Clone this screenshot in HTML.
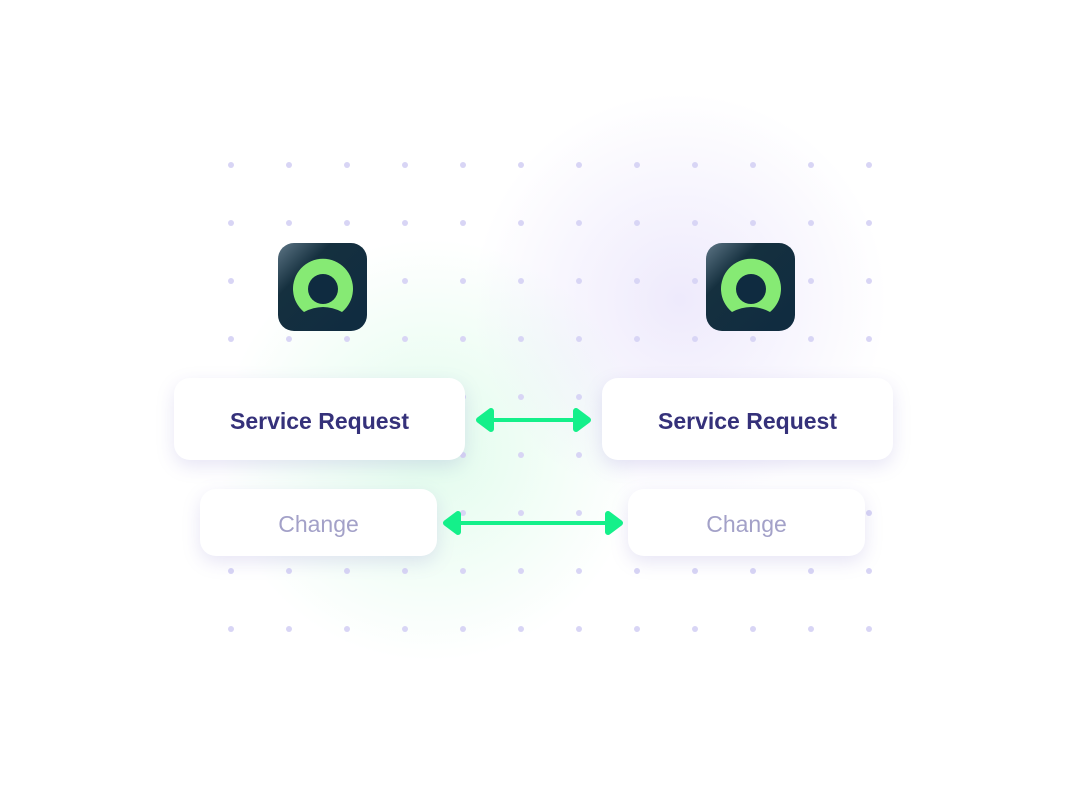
<!DOCTYPE html>
<html><head><style>
body{margin:0;width:1090px;height:800px;background:#fff;position:relative;overflow:hidden;font-family:"Liberation Sans",sans-serif}
.glow{position:absolute;border-radius:50%}
.box{position:absolute;background:#fff;border-radius:16px;box-shadow:0 6px 18px rgba(120,110,200,.18);display:flex;align-items:center;justify-content:center;padding-top:4px;box-sizing:border-box}
.sr{color:#35317a;font-weight:bold;font-size:23px}
.ch{color:#a3a1c8;font-size:23px}
.icon{position:absolute;width:89px;height:88px;border-radius:16px;background:linear-gradient(135deg,#5d7585 0%,#15303f 30%,#0f2b40 100%)}
</style></head><body>
<div class="glow" style="left:200px;top:220px;width:460px;height:460px;background:radial-gradient(circle,rgba(120,240,170,.22) 0%,rgba(120,240,170,0) 65%)"></div>
<div class="glow" style="left:440px;top:90px;width:480px;height:420px;background:radial-gradient(circle,rgba(170,150,240,.2) 0%,rgba(170,150,240,0) 65%)"></div>
<svg width="1090" height="800" style="position:absolute;left:0;top:0">
<g fill="#d8d5f5" id="dots"></g>
</svg>
<script>
var g=document.getElementById('dots'),s='';
for(var i=0;i<12;i++)for(var j=0;j<9;j++)s+='<circle cx="'+(231+i*58)+'" cy="'+(165+j*58)+'" r="3"/>';
g.innerHTML=s;
</script>
<div class="icon" style="left:278px;top:243px"></div>
<div class="icon" style="left:706px;top:243px"></div>
<svg width="1090" height="800" style="position:absolute;left:0;top:0">
<defs><g id="ic"><path d="M-19,22 A30,30 0 1 1 19,22 Q0,12 -19,22Z" fill="#86ea74"/><circle cx="0" cy="-1" r="15" fill="#0f2b40"/></g></defs>
<use href="#ic" x="323" y="290"/><use href="#ic" x="751" y="290"/>
</svg>
<div class="box sr" style="left:174px;top:378px;width:291px;height:82px">Service Request</div>
<div class="box sr" style="left:602px;top:378px;width:291px;height:82px">Service Request</div>
<div class="box ch" style="left:200px;top:489px;width:237px;height:67px">Change</div>
<div class="box ch" style="left:628px;top:489px;width:237px;height:67px">Change</div>
<svg width="1090" height="800" style="position:absolute;left:0;top:0">
<g stroke="#14f08a" stroke-width="4" fill="#14f08a" stroke-linejoin="round">
<line x1="485" y1="420" x2="582" y2="420"/>
<path d="M479,420 L491,411 L491,429Z" stroke-width="6"/><path d="M588,420 L576,411 L576,429Z" stroke-width="6"/>
<line x1="452" y1="523" x2="614" y2="523"/>
<path d="M446,523 L458,514 L458,532Z" stroke-width="6"/><path d="M620,523 L608,514 L608,532Z" stroke-width="6"/>
</g></svg>
</body></html>
